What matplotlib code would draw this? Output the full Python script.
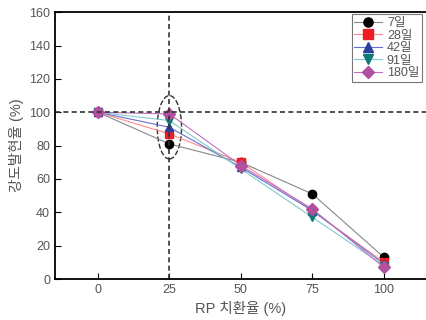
import numpy as np
import matplotlib.pyplot as plt
from matplotlib.patches import Ellipse

plt.rcParams['font.family'] = ['Liberation Sans', 'Noto Sans CJK KR']

# data
rp = [0, 25, 50, 75, 100]
labels = ['7일', '28일', '42일', '91일', '180일']
d7 = [100, 81, 70, 51, 13]
d28 = [100, 87, 70, 41, 10]
d42 = [100, 91, 67, 41, 9]
d91 = [100, 95, 66, 37, 8]
d180 = [100, 99, 68, 42, 7]
series = [d7, d28, d42, d91, d180]

markers = ['o', 's', '^', 'v', 'D']
mcolors = ['black', '#ee1c25', '#2e3f9e', '#0e7a78', '#b0509e']
lcolors = ['#888888', '#ff8a8a', '#6670d0', '#80cccc', '#c070c0']

fig = plt.figure(figsize=(4.26, 3.2), dpi=100)
ax = fig.add_axes([0.129, 0.128, 0.873, 0.834])

for s, lab, m, mc, lc in zip(series, labels, markers, mcolors, lcolors):
    ax.plot(rp, s, color=lc, lw=0.8, marker=m, markersize=6,
            markerfacecolor=mc, markeredgecolor=mc, label=lab)

ax.axhline(100, color='#333333', ls='--', lw=1.2, dashes=(3, 2))
ax.axvline(25, color='#333333', ls='--', lw=1.2, dashes=(3, 2))
ax.add_patch(Ellipse((25, 91), 8.5, 38, fill=False, ls='--', ec='#333333', lw=1.0))

ax.set_xlim(-15, 115)
ax.set_ylim(0, 160)
ax.set_xticks(rp)
ax.set_yticks(range(0, 161, 20))
ax.tick_params(direction='in', labelcolor='#555555', labelsize=9, length=4)
for sp in ax.spines.values():
    sp.set_linewidth(1.3)

ax.set_xlabel('RP 치환율 (%)', color='#555555', fontsize=10.5)
ax.set_ylabel('강도발현율 (%)', color='#555555', fontsize=10.5)

leg = ax.legend(loc='upper right', bbox_to_anchor=(0.99, 0.955),
                bbox_transform=fig.transFigure, fancybox=False,
                edgecolor='#555555', fontsize=9, handlelength=2.2,
                labelspacing=0.05, borderpad=0.2, handletextpad=0.4,
                borderaxespad=0.0, labelcolor='#555555', markerscale=1.1)
leg.get_frame().set_linewidth(0.8)

plt.savefig('out.png', dpi=100)
